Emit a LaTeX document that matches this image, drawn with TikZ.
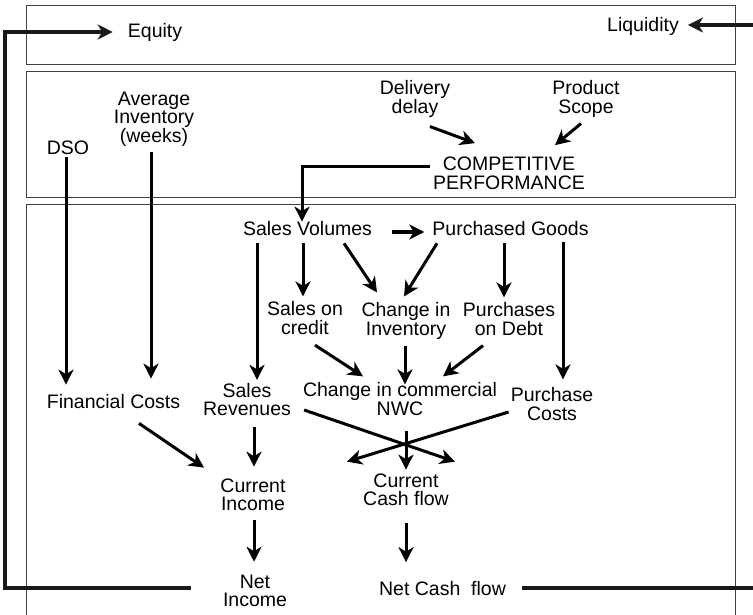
\documentclass[tikz,border=0pt]{standalone}
\usepackage{fontspec}
\setmainfont{Liberation Sans}
\usetikzlibrary{arrows.meta,calc}

\begin{document}
\begin{tikzpicture}[x=1pt,y=-1pt,
  lbl/.style={font=\fontsize{19.5}{18.5}\selectfont, align=center, inner sep=0pt},
  tip/.style={-{Stealth[length=15pt,width=15pt,inset=4.5pt]}},
  arr/.style={line width=3pt, tip},
  rail/.style={line width=3.4pt, color=black!90, tip},
  panel/.style={draw=black!75, line width=0.8pt}]
\useasboundingbox (0,0) rectangle (753,615);

% three panels
\draw[panel] (26,5) rectangle (735,64);
\draw[panel] (26,71) rectangle (735,197);
\draw[panel] (26,625) |- (735,204) -- (735,625);

% labels
\node[lbl] (equity) at (155,32)    {Equity};
\node[lbl] (liq)    at (643,26)    {Liquidity};
\node[lbl] (dso)    at (68,148)    {DSO};
\node[lbl] (avg)    at (154,119)   {Average\\Inventory\\(weeks)};
\node[lbl] (del)    at (415,99)    {Delivery\\delay};
\node[lbl] (prod)   at (586,99)    {Product\\Scope};
\node[lbl] (comp)   at (509,173.5) {COMPETITIVE\\PERFORMANCE};
\node[lbl] (sv)     at (307.5,229) {Sales Volumes};
\node[lbl] (pg)     at (510.5,229) {Purchased Goods};
\node[lbl] (soc)    at (305,318)   {Sales on\\credit};
\node[lbl] (ci)     at (406,321)   {Change in\\Inventory};
\node[lbl] (pod)    at (509,319)   {Purchases\\on Debt};
\node[lbl] (fin)    at (113.5,402) {Financial Costs};
\node[lbl] (sr)     at (247,399.5) {Sales\\Revenues};
\node[lbl] (nwc)    at (400,399)   {Change in commercial\\NWC};
\node[lbl] (pc)     at (552,404)   {Purchase\\Costs};
\node[lbl] (cinc)   at (253,495)   {Current\\Income};
\node[lbl] (ccf)    at (406,490)   {Current\\Cash flow};
\node[lbl] (ninc)   at (255,591)   {Net\\Income};
\node[lbl] (ncf)    at (442.5,588.5) {Net Cash\ \ flow};

% drivers in the middle panel
\draw[arr] ($(dso.south)+(-2,2)$) -- ($(dso.south|-fin.north)+(-2,-10)$);
\draw[arr] ($(avg.south)+(-3,6)$) -- ($(avg.south|-fin.north)+(-3,-16)$);
\draw[arr] ($(del.south)+(15,9)$) -- ($(comp.north)+(-34,-14)$);
\draw[arr] ($(prod.south)+(-5,6)$) -- ($(comp.north)+(46,-12)$);
\draw[arr] ($(comp.west)+(-3,-6.5)$) -| ($(sv.north)+(-5.5,0)$);

% operating flows
\draw[arr] ($(sv.east)+(20,3)$) -- ($(pg.west)+(-8,3)$);
\draw[arr] ($(sv.south)+(-4.5,7)$) -- ($(sv.south|-soc.north)+(-4.5,-5)$);
\draw[arr] ($(sv.south)+(36.5,7)$) -- ($(ci.north)+(-29,-10)$);
\draw[arr] ($(pg.south)+(-73.5,7)$) -- ($(ci.north)+(-2,-6)$);
\draw[arr] ($(pg.south)+(-6.5,7)$) -- ($(pg.south|-pod.north)+(-6.5,-5)$);
\draw[arr] ($(pg.south)+(52.5,6)$) -- ($(pg.south|-pc.north)+(52.5,-8)$);
\draw[arr] ($(sv.south)+(-50.5,7)$) -- ($(sv.south|-sr.north)+(-50.5,-3)$);
\draw[arr] ($(soc.south)+(10,10.5)$) -- ($(nwc.north)+(-37,-6)$);
\draw[arr] ($(ci.south)+(-1,6)$) -- ($(nwc.north)+(5,2)$);
\draw[arr] ($(pod.south)+(-26,10)$) -- ($(nwc.north)+(43,-6)$);

% income and cash flow
\draw[arr] ($(fin.south)+(25.5,14)$) -- ($(cinc.north)+(-49,-11)$);
\draw[arr] ($(sr.south)+(7,11)$) -- ($(cinc.north)+(1,-12)$);
\draw[arr] ($(sr.east)+(13,10.5)$) -- ($(ccf.north)+(49,-12)$);
\draw[arr] ($(pc.west)+(-2,8)$) -- ($(ccf.north)+(-59,-12)$);
\draw[arr] ($(nwc.south)+(6,15)$) -- ($(ccf.north)+(0,-4)$);
\draw[arr] ($(cinc.south)+(1,9)$) -- ($(cinc.south|-ninc.north)+(1,-13)$);
\draw[arr] ($(ccf.south)+(0,17)$) -- ($(ccf.south|-ncf.north)+(0,-19)$);

% feedback rails to the top panel
\coordinate (lrail) at (5,0);
\coordinate (rrail) at (762,0);
\coordinate (nincL) at ($(ninc.west)+(-32,-3)$);
\coordinate (ncfR)  at ($(ncf.east)+(16,-0.5)$);
\draw[rail] (nincL) -- (nincL -| lrail) |- ($(equity.west)+(-15,0)$);
\draw[rail] (ncfR) -- (ncfR -| rrail) |- ($(liq.east)+(9,-1)$);
\end{tikzpicture}
\end{document}
